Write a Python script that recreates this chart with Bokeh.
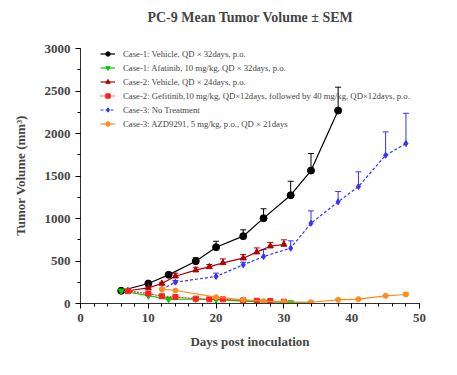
from bokeh.plotting import figure
from bokeh.models import Whisker, ColumnDataSource, Label, Legend, LegendItem
from bokeh.embed import file_html
from bokeh.resources import INLINE

# Case-1 Vehicle
c1v_day = [6, 10, 13, 17, 20, 24, 27, 31, 34, 38]
c1v_val = [150, 235, 337, 498, 662, 792, 1004, 1274, 1564, 2270]
c1v_sem = [10, 20, 25, 40, 70, 75, 110, 164, 200, 275]
# Case-1 Afatinib
c1a_day = [6, 10, 13, 17, 20, 24, 27, 31, 34]
c1a_val = [150, 92, 49, 53, 45, 29, 20, 12, 8]
c1a_sem = [5, 8, 6, 6, 5, 4, 3, 3, 2]
# Case-2 Vehicle
c2v_day = [7, 10, 12, 14, 17, 19, 21, 24, 26, 28, 30]
c2v_val = [150, 184, 235, 321, 392, 431, 478, 533, 604, 674, 694]
c2v_sem = [8, 12, 15, 36, 35, 28, 47, 43, 50, 45, 55]
# Case-2 Gefitinib
c2g_day = [7, 10, 12, 14, 17, 19, 21, 24, 26, 28, 30]
c2g_val = [145, 118, 86, 76, 57, 49, 49, 37, 33, 29, 21]
c2g_sem = [8, 10, 8, 8, 6, 5, 5, 4, 4, 4, 3]
# Case-3 No Treatment
c3n_day = [12, 14, 20, 24, 27, 31, 34, 38, 41, 45, 48]
c3n_val = [168, 251, 318, 455, 553, 651, 945, 1196, 1376, 1744, 1882]
c3n_sem = [10, 20, 39, 30, 82, 86, 145, 121, 173, 275, 356]
# Case-3 AZD9291
c3a_day = [12, 14, 20, 24, 27, 30, 34, 38, 41, 45, 48]
c3a_val = [168, 153, 74, 43, 27, 20, 15, 43, 51, 90, 106]
c3a_sem = [8, 8, 6, 5, 4, 3, 3, 6, 8, 12, 20]

title_text = "PC-9 Mean Tumor Volume \u00b1 SEM"
y_label = "Tumor Volume (mm\u00b3)"
y_max = 3000

series = [
    ("Case-1: Vehicle, QD \u00d7 32days, p.o.", c1v_day, c1v_val, c1v_sem, "#000000", "circle", 7, "solid"),
    ("Case-1: Afatinib, 10 mg/kg, QD \u00d7 32days, p.o.", c1a_day, c1a_val, c1a_sem, "#00cc00", "inverted_triangle", 6, "solid"),
    ("Case-2: Vehicle, QD \u00d7 24days, p.o.", c2v_day, c2v_val, c2v_sem, "#b00000", "triangle", 6, "solid"),
    ("Case-2: Gefitinib,10 mg/kg, QD\u00d712days, followed by 40 mg/kg, QD\u00d712days, p.o.", c2g_day, c2g_val, c2g_sem, "#ff2020", "square", 5, "2 1"),
    ("Case-3: No Treatment", c3n_day, c3n_val, c3n_sem, "#3333ff", "diamond", 6, "3 2"),
    ("Case-3: AZD9291, 5 mg/kg, p.o., QD \u00d7 21days", c3a_day, c3a_val, c3a_sem, "#ff8c1a", "circle", 5, "solid"),
]

# frame: 295 px tall, of which the bottom 255 px hold 0..3000 (extra room on top for the title)
frame_h, axis_h = 295, 255
p = figure(width=449, height=367, x_range=(0, 50), y_range=(0, y_max * frame_h / axis_h),
           output_backend="svg", toolbar_location=None,
           min_border_left=80, min_border_top=8, min_border_right=30, min_border_bottom=64)
p.outline_line_color = None
p.xgrid.grid_line_color = None
p.ygrid.grid_line_color = None
p.add_layout(Label(x=170, y=axis_h + 31, x_units="screen", y_units="screen", text=title_text,
                   text_align="center", text_baseline="middle",
                   text_font="Liberation Serif", text_font_size="14px",
                   text_font_style="bold"))

for ax in (p.xaxis[0], p.yaxis[0]):
    ax.major_label_text_font = "Liberation Serif"
    ax.major_label_text_font_style = "bold"
    ax.major_label_text_font_size = "13px"
    ax.axis_label_text_font = "Liberation Serif"
    ax.axis_label_text_font_style = "bold"
    ax.axis_label_text_font_size = "13px"
    ax.major_tick_out = 5
    ax.major_tick_in = 0
    ax.minor_tick_out = 3
    ax.minor_tick_in = 0
    ax.axis_line_color = "#333333"
p.yaxis[0].bounds = (0, y_max)
p.xaxis.ticker.desired_num_ticks = 5
p.xaxis[0].ticker.num_minor_ticks = 5
p.yaxis[0].ticker.num_minor_ticks = 2
p.xaxis.axis_label = "Days post inoculation"
# trailing no-break spaces shift the centred label down to the middle of the 0..3000 axis
p.yaxis.axis_label = y_label + "\u00a0" * 12
p.xaxis.axis_label_standoff = 9
p.yaxis.axis_label_standoff = 14

items = []
for label, d, v, s, col, mk, sz, dash in series:
    up = [a + b for a, b in zip(v, s)]
    src = ColumnDataSource(dict(x=d, y=v, up=up))
    w = Whisker(source=src, base="x", upper="up", lower="y", dimension="height",
                line_color=col, line_width=1, lower_head=None)
    w.upper_head.size = 6
    w.upper_head.line_color = col
    p.add_layout(w)
    r1 = p.line("x", "y", source=src, line_color=col, line_width=1.2, line_dash=dash)
    r2 = p.scatter("x", "y", source=src, marker=mk, size=sz, fill_color=col, line_color=col)
    items.append(LegendItem(label=label, renderers=[r1, r2]))

leg = Legend(items=items, location=(20, 174), padding=0, margin=0, spacing=3,
             label_text_font="Liberation Serif", label_text_font_size="8.7px",
             label_height=11, glyph_height=11, glyph_width=15, label_standoff=8,
             border_line_color=None, background_fill_alpha=0)
p.add_layout(leg)

open("out.html", "w").write(file_html(p, INLINE))
